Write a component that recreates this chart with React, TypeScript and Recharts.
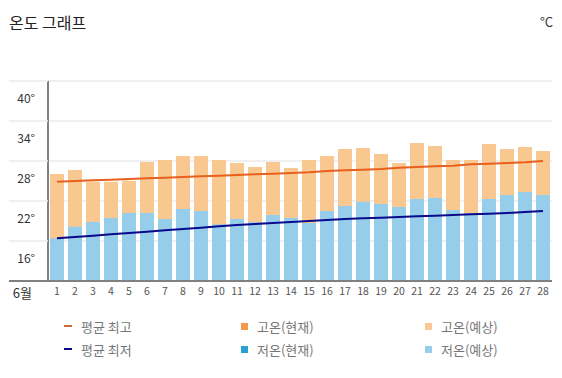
import React from 'react';
import { BarChart, Bar, Line, XAxis, YAxis, CartesianGrid, Label } from 'recharts';

const days = ['1','2','3','4','5','6','7','8','9','10','11','12','13','14','15','16','17','18','19','20','21','22','23','24','25','26','27','28'];
const highForecast = [26.05, 26.65, 24.9, 24.9, 25.05, 27.85, 28.15, 28.75, 28.75, 28.15, 27.7, 27.1, 27.85, 26.95, 28.15, 28.75, 29.8, 29.95, 29.05, 27.7, 30.7, 30.25, 28.15, 28.15, 30.55, 29.8, 30.1, 29.5];
const lowForecast = [16.4, 18.15, 18.85, 19.45, 20.2, 20.2, 19.3, 20.8, 20.5, 18.5, 19.3, 18.85, 19.9, 19.45, 18.7, 20.5, 21.25, 21.9, 21.55, 21.1, 22.3, 22.45, 20.65, 20.15, 22.3, 22.9, 23.35, 22.9];
const avgHigh = [24.9, 25.0, 25.1, 25.2, 25.3, 25.4, 25.5, 25.6, 25.7, 25.8, 25.9, 26.0, 26.1, 26.2, 26.3, 26.5, 26.6, 26.7, 26.8, 27.0, 27.1, 27.2, 27.3, 27.5, 27.6, 27.7, 27.8, 28.0];
const avgLow = [16.4, 16.6, 16.8, 17.0, 17.2, 17.4, 17.6, 17.8, 18.0, 18.2, 18.4, 18.55, 18.7, 18.85, 19.0, 19.15, 19.3, 19.4, 19.5, 19.6, 19.7, 19.8, 19.9, 20.0, 20.1, 20.2, 20.35, 20.5];
const yTicks = [10, 16, 22, 28, 34, 40];
const monthLabel = '6월';
const title = '온도 그래프';
const unit = '°C';

const legendItems = [
  { name: '평균 최고', color: '#C86B3A', type: 'line' },
  { name: '고온(현재)', color: '#F39A48', type: 'square' },
  { name: '고온(예상)', color: '#FAC995', type: 'square' },
  { name: '평균 최저', color: '#0A0A8C', type: 'line' },
  { name: '저온(현재)', color: '#2C9FD7', type: 'square' },
  { name: '저온(예상)', color: '#97CEEC', type: 'square' },
];

const data = days.map((d, i) => ({
  day: d,
  high: highForecast[i],
  low: lowForecast[i],
  avgHigh: avgHigh[i],
  avgLow: avgLow[i],
}));

const FONT = '"Noto Sans CJK KR", "Noto Sans", sans-serif';

const YTick = (props: any) => {
  const { y, payload } = props;
  const v = payload.value;
  const isBase = v === yTicks[0];
  return (
    <g>
      <line x1={9} x2={48} y1={y} y2={y} stroke={isBase ? '#808080' : '#ebebeb'} strokeWidth={isBase ? 2 : 1.5} />
      {!isBase && (
        <text x={35} y={y + 16} textAnchor="end" dominantBaseline="central" fontSize={12} fill="#333" fontFamily={FONT}>
          {v}°
        </text>
      )}
    </g>
  );
};

const LegendBlock = () => {
  const colX = [64, 241, 425];
  const rowY = [326, 349];
  return (
    <>
      {legendItems.map((it, i) => {
        const col = i % 3;
        const row = Math.floor(i / 3);
        const cx = colX[col];
        const cy = rowY[row];
        return (
          <div key={it.name} style={{ position: 'absolute', left: cx, top: cy - 10, height: 20, display: 'flex', alignItems: 'center' }}>
            {it.type === 'line' ? (
              <div style={{ width: 8, height: 2, background: it.color }} />
            ) : (
              <div style={{ width: 7, height: 7, background: it.color }} />
            )}
            <span style={{ marginLeft: 9, fontSize: 13, color: '#777', fontFamily: FONT, whiteSpace: 'nowrap' }}>{it.name}</span>
          </div>
        );
      })}
    </>
  );
};

export default function App() {
  return (
    <div style={{ position: 'absolute', left: 0, top: 0, width: 562, height: 378, background: '#fff', fontFamily: FONT }}>
      <div style={{ position: 'absolute', left: 9, top: 10, fontSize: 16, color: '#222', fontFamily: FONT }}>{title}</div>
      <div style={{ position: 'absolute', right: 9, top: 12, fontSize: 13, color: '#333', fontFamily: FONT }}>{unit}</div>
      <div style={{ position: 'absolute', left: 0, top: 0 }}>
        <BarChart width={562} height={378} data={data} margin={{ top: 81, right: 10, bottom: 73, left: 0 }}>
          <CartesianGrid horizontal={true} vertical={false} stroke="#ebebeb" strokeWidth={1.5} />
          <XAxis
            xAxisId="a"
            dataKey="day"
            height={24}
            tickLine={false}
            tickSize={0}
            tickMargin={7}
            axisLine={{ stroke: '#808080', strokeWidth: 2 }}
            tick={{ fontSize: 10.5, fill: '#555', fontFamily: FONT }}
            interval={0}
          >
            <Label value={monthLabel} position="left" offset={16} fontSize={13} fill="#333" fontFamily={FONT} />
          </XAxis>
          <XAxis xAxisId="b" dataKey="day" hide />
          <YAxis
            width={48}
            domain={[10, 40]}
            ticks={yTicks}
            tickLine={false}
            axisLine={{ stroke: '#808080', strokeWidth: 2 }}
            tick={<YTick />}
            interval={0}
          />
          <Bar xAxisId="a" dataKey="high" name="고온(예상)" fill="#F9C891" barSize={14} isAnimationActive={false} />
          <Bar xAxisId="b" dataKey="low" name="저온(예상)" fill="#95CDEB" barSize={14} isAnimationActive={false} />
          <Line xAxisId="a" type="linear" dataKey="avgHigh" name="평균 최고" stroke="#E8601C" strokeWidth={2} dot={false} isAnimationActive={false} />
          <Line xAxisId="a" type="linear" dataKey="avgLow" name="평균 최저" stroke="#0A0A8C" strokeWidth={2} dot={false} isAnimationActive={false} />
        </BarChart>
      </div>
      <LegendBlock />
    </div>
  );
}
